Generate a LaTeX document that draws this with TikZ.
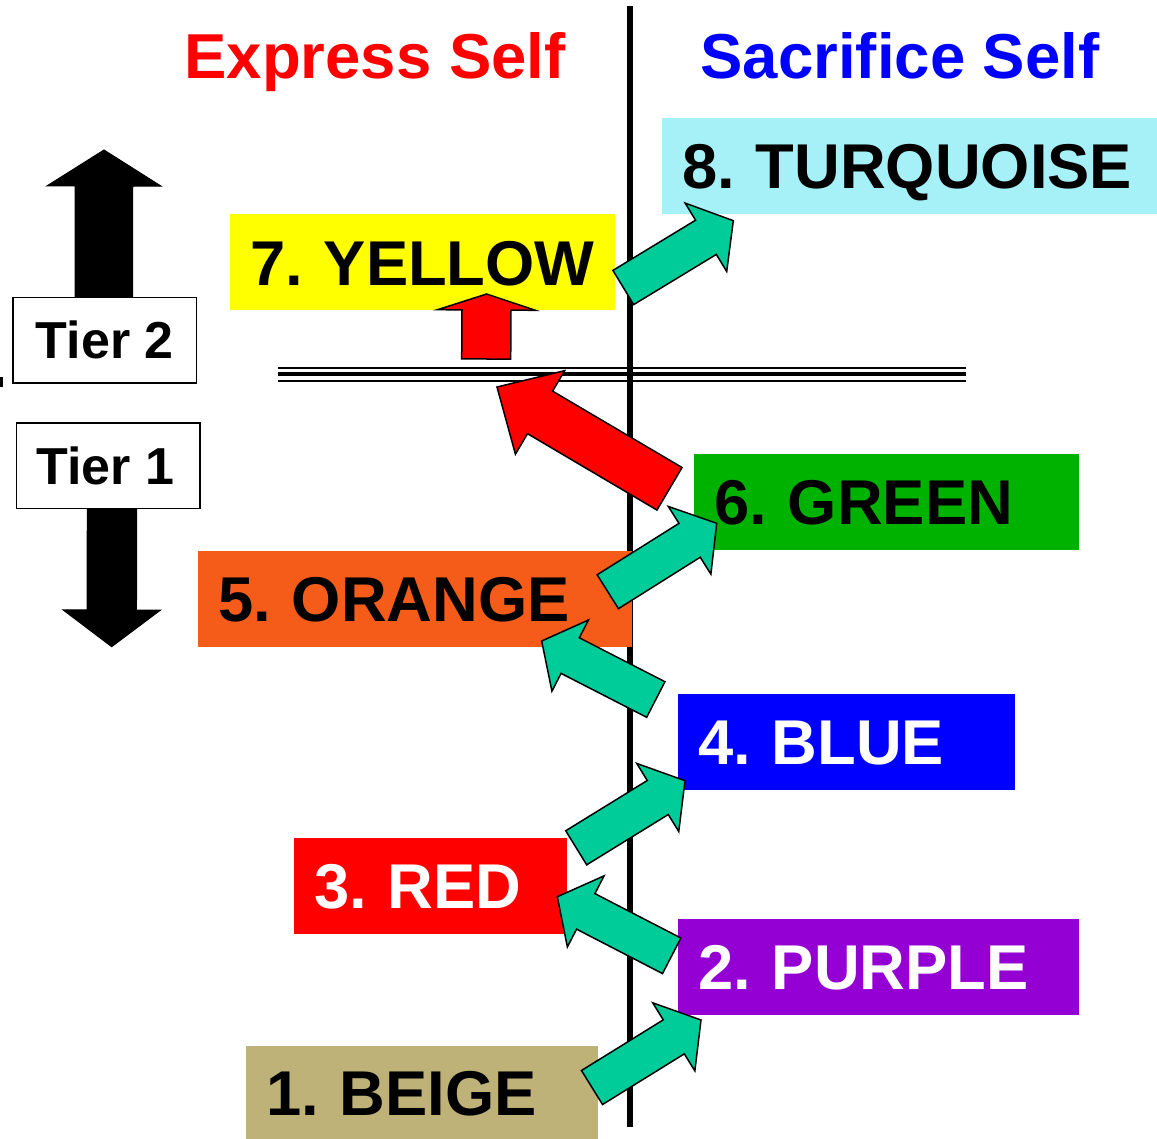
\documentclass[tikz,border=0pt]{standalone}
\usepackage{fontspec}
\setmainfont{Liberation Sans}
\usetikzlibrary{calc}
\definecolor{turq}{RGB}{166,241,248}
\definecolor{yel}{RGB}{255,255,0}
\definecolor{grn}{RGB}{0,178,0}
\definecolor{org}{RGB}{245,92,26}
\definecolor{blu}{RGB}{0,0,255}
\definecolor{rd}{RGB}{255,0,0}
\definecolor{pur}{RGB}{148,0,211}
\definecolor{beigec}{RGB}{190,178,120}
\definecolor{garrow}{RGB}{0,204,153}
\newcommand{\blockarr}[6]{%
  \coordinate (hb) at ($(#2)!#5!(#1)$);
  \draw[#6] ($(#1)!#3!90:(#2)$) -- ($(hb)!#3!90:(#2)$) -- ($(hb)!#4!90:(#2)$) -- (#2)
    -- ($(hb)!#4!-90:(#2)$) -- ($(hb)!#3!-90:(#2)$) -- ($(#1)!#3!-90:(#2)$) -- cycle;
}
\tikzset{
  box/.style={anchor=north west, inner xsep=20pt, inner ysep=0pt, outer sep=0pt,
    text height=45.5pt, text depth=0pt, align=left, minimum height=96pt,
    font=\bfseries\fontsize{63.3}{63.3}\selectfont\frenchspacing},
  tierbox/.style={draw=black, line width=1.5pt, fill=white, anchor=north west,
    inner sep=0pt, text height=37.2pt, text depth=0pt,
    font=\bfseries\fontsize{52}{52}\selectfont},
  title/.style={anchor=base, font=\bfseries\fontsize{63.5}{63.5}\selectfont},
  greenarr/.style={fill=garrow, draw=black, line width=1.5pt, line join=miter},
  redarr/.style={fill=rd, draw=black, line width=1.5pt, line join=miter},
  blackarr/.style={fill=black, draw=black, line width=1pt, line join=miter},
}
\begin{document}
\begin{tikzpicture}[x=1pt,y=-1pt]
\useasboundingbox (0,0) rectangle (1157,1139);
% titles
\node[title, text=rd] (t1) at (375,79) {Express Self};
\node[title, text=blu] (t2) at (900,79) {Sacrifice Self};
% divider lines
\draw[line width=6pt] (630,6) -- (630,1127);
\draw[line width=2.2pt] (278,367.7) -- (966,367.7);
\draw[line width=4pt] (278,374.3) -- (966,374.3);
\draw[line width=2.2pt] (278,381) -- (966,381);
\fill[black] (0,377) rectangle (3,387);
% level boxes
\node[box, fill=turq, text width=455pt] (b8) at (662,118) {\mbox{8. TURQUOISE}};
\node[box, fill=yel, text width=345pt] (b7) at (230,214.5) {\mbox{7. YELLOW}};
\node[box, fill=grn, text width=345pt] (b6) at (694,454) {\mbox{6. GREEN}};
\node[box, fill=org, text width=394pt] (b5) at (198,550.5) {\mbox{5. ORANGE}};
\node[box, fill=blu, text=white, text width=297pt] (b4) at (678,694) {\mbox{4. BLUE}};
\node[box, fill=rd, text=white, text width=233pt] (b3) at (294,838) {\mbox{3. RED}};
\node[box, fill=pur, text=white, text width=361pt] (b2) at (678,918.5) {\mbox{2. PURPLE}};
\node[box, fill=beigec, text width=312pt, minimum height=93pt] (b1) at (246,1046) {\mbox{1. BEIGE}};
% tier arrows
\coordinate (uptip) at (104,150);
\coordinate (downtip) at (111.7,646.7);
\coordinate (upbase) at (103.8,297);
\coordinate (downbase) at (112,507);
\blockarr{upbase}{uptip}{28.8pt}{57pt}{36pt}{blackarr}
\blockarr{downbase}{downtip}{24.7pt}{48.7pt}{36.7pt}{blackarr}
\node[tierbox, minimum width=183.4pt, minimum height=85.6pt] (tier2) at (12.3,296.7) {Tier 2};
\node[tierbox, minimum width=183.6pt, minimum height=85.4pt] (tier1) at (15.7,422.3) {\mbox{Tier 1\kern6pt}};
% red arrows
\coordinate (rus) at (486.2,359);
\coordinate (rue) at (486.6,294);
\blockarr{rus}{rue}{24.5pt}{49pt}{16pt}{redarr}
\coordinate (rbs) at (669.5,488.8);
\coordinate (rbe) at (497,387);
\blockarr{rbs}{rbe}{24.7pt}{48.5pt}{50pt}{redarr}
% green arrows
\coordinate (g1s) at (592,1087.5);   \coordinate (g1e) at (701,1020);
\coordinate (g2s) at (671.7,955.8);  \coordinate (g2e) at (557.3,896.7);
\coordinate (g3s) at (576.2,847.8);  \coordinate (g3e) at (685,780.7);
\coordinate (g4s) at (655.8,699.5);  \coordinate (g4e) at (541.7,641);
\coordinate (g5s) at (607.8,591.7);  \coordinate (g5e) at (716.7,523.3);
\coordinate (g6s) at (623.3,287.5);  \coordinate (g6e) at (733.3,220.7);
\blockarr{g1s}{g1e}{20pt}{40pt}{32pt}{greenarr}
\blockarr{g2s}{g2e}{20pt}{40pt}{32pt}{greenarr}
\blockarr{g3s}{g3e}{20pt}{40pt}{32pt}{greenarr}
\blockarr{g4s}{g4e}{20pt}{40pt}{32pt}{greenarr}
\blockarr{g5s}{g5e}{20pt}{40pt}{32pt}{greenarr}
\blockarr{g6s}{g6e}{20pt}{40pt}{32pt}{greenarr}
\end{tikzpicture}
\end{document}
